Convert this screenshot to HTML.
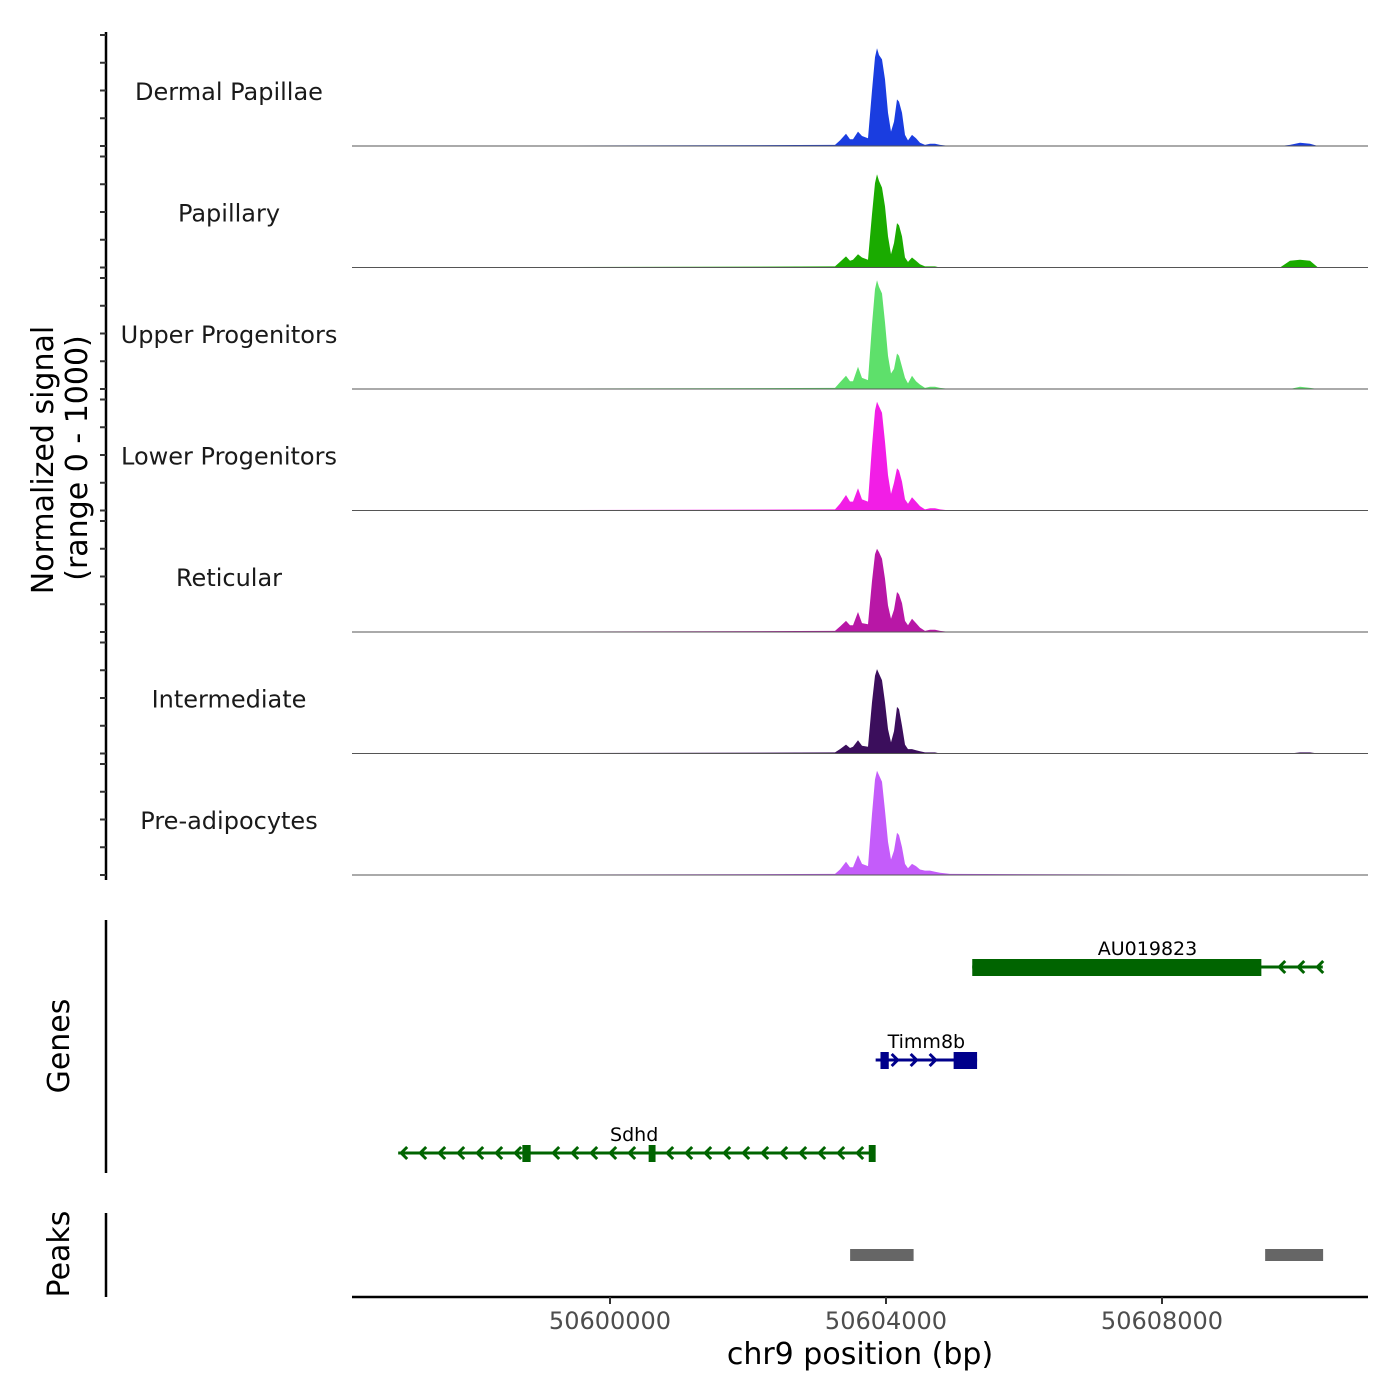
<!DOCTYPE html>
<html><head><meta charset="utf-8"><style>
html,body{margin:0;padding:0;background:#fff;}
svg{display:block;font-family:"DejaVu Sans","Liberation Sans",sans-serif;}
</style></head><body>
<svg id="chart" width="1400" height="1400" viewBox="0 0 1400 1400" xmlns="http://www.w3.org/2000/svg">
<rect width="1400" height="1400" fill="#fff"/>
<g id="tracks"></g>
<g id="genes"></g>
<g id="peaks"></g>
<g id="axes"></g>
</svg>
<script>
const trackNames = ["Dermal Papillae","Papillary","Upper Progenitors","Lower Progenitors","Reticular","Intermediate","Pre-adipocytes"];
const trackColors = ["#1a3de0","#1aab00","#5ee06b","#f21ee6","#b817a6","#3b0e5c","#c45cfa"];
const positions = [50596260,50603261,50603333,50603420,50603478,50603522,50603594,50603652,50603739,50603797,50603841,50603870,50603899,50603942,50603986,50604029,50604072,50604116,50604159,50604188,50604232,50604275,50604319,50604377,50604435,50604493,50604565,50604638,50604710,50604783,50604928,50609710,50609855,50610000,50610145,50610261,50610986];
const sigDP  = [0,1,5,11,6,6,13,9,7,50,80,88,82,78,60,30,13,22,42,40,30,10,5,10,7,3,1,2,2,1,0,0,1,3,2,0,0];
const sigPap = [0,1,5,10,6,7,12,9,7,48,76,84,78,72,55,28,12,22,40,38,28,9,5,9,6,3,1,1,1,0,0,0,6,7,6,0,0];
const sigUP  = [0,1,6,12,7,7,20,10,8,58,90,98,92,86,60,30,14,18,32,30,20,10,5,12,7,4,1,2,2,1,0,0,0,2,1,0,0];
const sigLP  = [0,1,6,14,8,8,20,10,8,58,90,98,94,88,62,32,15,25,38,36,26,10,6,12,8,4,1,2,2,1,0,0,0,0,0,0,0];
const sigRet = [0,1,5,10,6,6,18,8,7,46,70,75,72,66,48,24,12,20,36,34,26,10,6,12,8,4,1,2,2,1,0,0,0,0,0,0,0];
const sigInt = [0,1,4,8,5,6,12,7,6,46,70,76,72,66,46,22,10,20,42,40,25,8,4,4,3,2,1,1,1,0,0,0,0,1,1,0,0];
const sigPre = [0,1,5,12,7,7,18,10,8,55,86,94,90,84,58,30,14,22,38,36,25,10,6,10,8,5,4,4,3,2,1,0,0,0,0,0,0];
const signals = [sigDP,sigPap,sigUP,sigLP,sigRet,sigInt,sigPre];
const xTicks = [50600000,50604000,50608000];
const geneNames = ["AU019823","Timm8b","Sdhd"];
const geneStarts = [50605250,50603850,50596930];
const geneEnds = [50610330,50605320,50603770];
const geneStrand = [-1,1,-1];
const exonStarts = [[50605250],[50603920,50604980],[50598730,50600560,50603750]];
const exonEnds = [[50609440],[50604040,50605320],[50598850,50600660,50603850]];
const peakStarts = [50603480,50609495];
const peakEnds = [50604400,50610335];

const NS="http://www.w3.org/2000/svg";
function el(tag, attrs, parent){const e=document.createElementNS(NS,tag);for(const k in attrs)e.setAttribute(k,attrs[k]);parent.appendChild(e);return e;}
const xs = bp => 610 + (bp-50600000)*0.069;
const trackBase = i => 146 + i*121.5;
const ys = (i,v) => trackBase(i) - v*1.11;

const gT=document.getElementById('tracks');
signals.forEach((s,i)=>{
  const g=el('g',{},gT);
  
  
  let d='M'+xs(positions[0])+','+trackBase(i);
  positions.forEach((p,j)=>{d+=' L'+xs(p).toFixed(1)+','+ys(i,s[j]).toFixed(1);});
  d+=' L'+xs(positions[positions.length-1])+','+trackBase(i)+' Z';
  const a=el('path',{d:d,fill:trackColors[i]},g);
  
  
  const b=el('line',{x1:352,x2:1368,y1:trackBase(i),y2:trackBase(i),stroke:'#555','stroke-width':1},g);
  
  
  const t=el('text',{x:229,y:trackBase(i)-46,'text-anchor':'middle','font-size':24,fill:'#1a1a1a'},g);
  t.textContent=trackNames[i];
  
  
});

const gG=document.getElementById('genes');
const geneColors=["#006400","#00008b","#006400"];
const geneY=[967,1060,1153];
geneNames.forEach((n,i)=>{
  const g=el('g',{},gG);
  
  
  const c=geneColors[i], y=geneY[i];
  const x1=xs(geneStarts[i]), x2=xs(geneEnds[i]);
  el('line',{x1:x1,x2:x2,y1:y,y2:y,stroke:c,'stroke-width':3},g);
  const exS=exonStarts[i], exE=exonEnds[i];
  for(let x=x1+3;x<x2-4;x+=19){
    let inside=false;
    exS.forEach((s,k)=>{if(x>xs(s)-4&&x<xs(exE[k])+4)inside=true;});
    if(inside) continue;
    const dx=-6*geneStrand[i];
    el('polyline',{points:(x+dx)+','+(y-6)+' '+x+','+y+' '+(x+dx)+','+(y+6),fill:'none',stroke:c,'stroke-width':3},g);
  }
  exS.forEach((s,k)=>{
    const r=el('rect',{x:xs(s),y:y-8,width:xs(exE[k])-xs(s),height:17,fill:c},g);
    
    
  });
  const t=el('text',{x:(x1+x2)/2,y:y-12,'text-anchor':'middle','font-size':19,fill:'#000'},g);
  t.textContent=n;
  
  
});

const gP=document.getElementById('peaks');
peakStarts.forEach((s,i)=>{
  const r=el('rect',{x:xs(s),y:1249,width:xs(peakEnds[i])-xs(s),height:12,fill:'#666'},gP);
  
  
});

const gA=document.getElementById('axes');
[[32,880],[920,1173],[1213,1297]].forEach(([a,b])=>{
  const l=el('line',{x1:106,x2:106,y1:a,y2:b,stroke:'#000','stroke-width':2.5},gA);
  
  
});
for(let i=0;i<7;i++){for(let k=0;k<5;k++){
  const y=trackBase(i)-k*27.75;
  el('line',{x1:100,x2:106,y1:y,y2:y,stroke:'#333','stroke-width':2},gA);
}}
const xl=el('line',{x1:352,x2:1368,y1:1297,y2:1297,stroke:'#000','stroke-width':2.5},gA);


xTicks.forEach(v=>{
  el('line',{x1:xs(v),x2:xs(v),y1:1297,y2:1304,stroke:'#333','stroke-width':2},gA);
  const t=el('text',{x:xs(v),y:1329,'text-anchor':'middle','font-size':24,fill:'#4d4d4d'},gA);
  t.textContent=v;
  
  
});
function txt(s,attrs,name){const t=el('text',attrs,gA);t.textContent=s;return t;}
txt('chr9 position (bp)',{x:860,y:1364,'text-anchor':'middle','font-size':30,fill:'#000'},'x-axis-title');
txt('Normalized signal',{x:0,y:0,'text-anchor':'middle','font-size':30,fill:'#000',transform:'translate(53,460) rotate(-90)'},'y-axis-title');
txt('(range 0 - 1000)',{x:0,y:0,'text-anchor':'middle','font-size':30,fill:'#000',transform:'translate(87,458) rotate(-90)'},'y-axis-subtitle');
txt('Genes',{x:0,y:0,'text-anchor':'middle','font-size':30,fill:'#000',transform:'translate(69,1046) rotate(-90)'},'genes-axis-title');
txt('Peaks',{x:0,y:0,'text-anchor':'middle','font-size':30,fill:'#000',transform:'translate(69,1254) rotate(-90)'},'peaks-axis-title');
</script>
</body></html>
